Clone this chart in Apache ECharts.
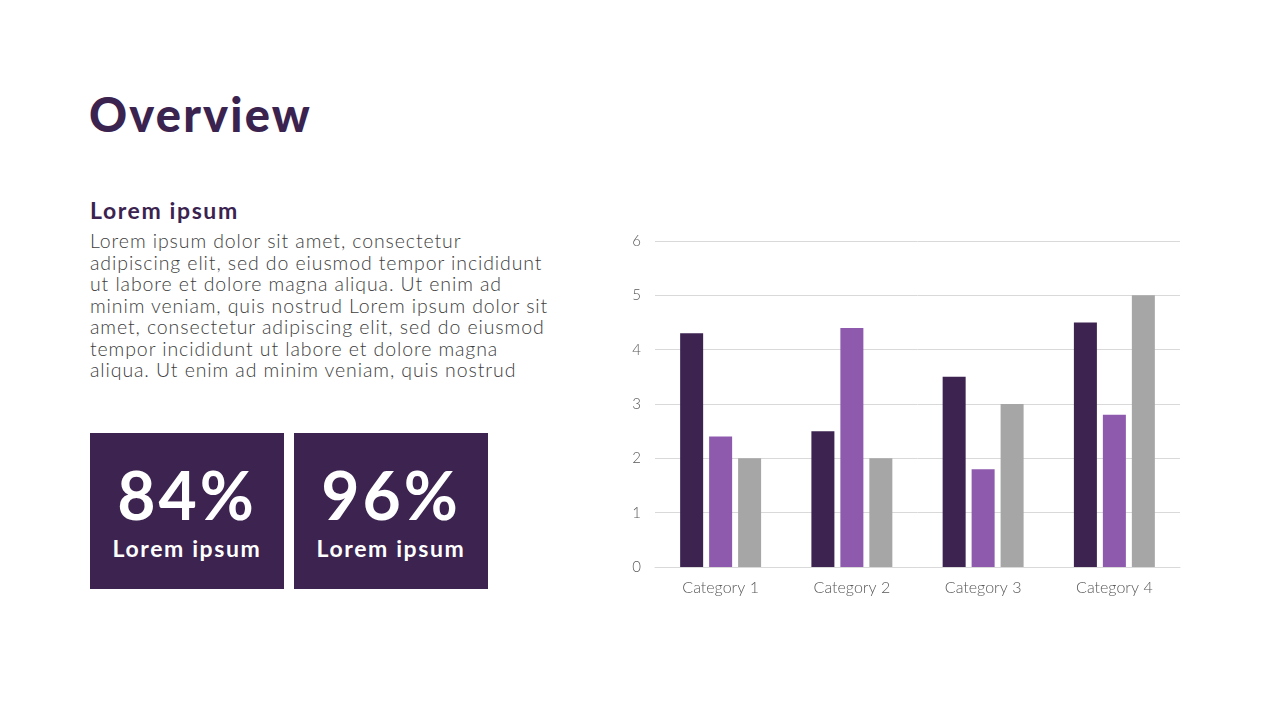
<!DOCTYPE html>
<html>
<head>
<meta charset="utf-8">
<script src="https://cdn.jsdelivr.net/npm/echarts@6/dist/echarts.min.js"></script>
<style>
  html, body { margin: 0; padding: 0; width: 1280px; height: 720px; background: #fff; overflow: hidden; }
  #title { position: absolute; left: 89px; top: 86px; font-family: Lato, sans-serif; font-weight: 900; font-size: 47px; color: #3B2350; letter-spacing: 2.2px; }
  #sub { position: absolute; left: 90px; top: 196px; font-family: Lato, sans-serif; font-weight: 700; font-size: 23px; color: #3B2350; letter-spacing: 1.6px; }
  #para { position: absolute; left: 90px; top: 230px; width: 520px; font-family: Lato, sans-serif; font-weight: 300; font-size: 19.5px; line-height: 21.5px; color: #404040; letter-spacing: 0.9px; white-space: nowrap; }
  .box { position: absolute; top: 433px; width: 194px; height: 156px; background: #3C2350; color: #fff; text-align: center; font-family: Lato, sans-serif; }
  .box .num { position: absolute; left: 0; right: 0; top: 22px; font-size: 66px; font-weight: 700; line-height: 80px; letter-spacing: 3px; }
  .box .lbl { position: absolute; left: 0; right: 0; top: 100px; font-size: 23px; font-weight: 700; line-height: 30px; letter-spacing: 1.6px; }
  #chart { position: absolute; left: 600px; top: 220px; width: 620px; height: 400px; }
</style>
</head>
<body>
<div id="title">Overview</div>
<div id="sub">Lorem ipsum</div>
<div id="para">Lorem ipsum dolor sit amet, consectetur<br>adipiscing elit, sed do eiusmod tempor incididunt<br>ut labore et dolore magna aliqua. Ut enim ad<br>minim veniam, quis nostrud Lorem ipsum dolor sit<br>amet, consectetur adipiscing elit, sed do eiusmod<br>tempor incididunt ut labore et dolore magna<br>aliqua. Ut enim ad minim veniam, quis nostrud</div>
<div class="box" style="left:90px"><div class="num">84%</div><div class="lbl">Lorem ipsum</div></div>
<div class="box" style="left:294px"><div class="num">96%</div><div class="lbl">Lorem ipsum</div></div>
<div id="chart"></div>
<script>
const categories = ['Category 1', 'Category 2', 'Category 3', 'Category 4'];
const series1 = [4.3, 2.5, 3.5, 4.5];
const series2 = [2.4, 4.4, 1.8, 2.8];
const series3 = [2, 2, 3, 5];
const colors = ['#3C2350', '#8E5AAE', '#A6A6A6'];

const chart = echarts.init(document.getElementById('chart'));
chart.setOption({
  animation: false,
  grid: { left: 55, right: 40, top: 21, bottom: 53 },
  xAxis: {
    type: 'category',
    data: categories,
    axisLine: { lineStyle: { color: '#D9D9D9' } },
    axisTick: { show: false },
    axisLabel: { color: '#595959', fontFamily: 'Lato, sans-serif', fontWeight: 300, fontSize: 16, margin: 13 }
  },
  yAxis: {
    type: 'value',
    min: 0, max: 6, interval: 1,
    axisLine: { show: false },
    axisTick: { show: false },
    splitLine: { lineStyle: { color: '#D9D9D9' } },
    axisLabel: { color: '#595959', fontFamily: 'Lato, sans-serif', fontWeight: 300, fontSize: 15, margin: 14 }
  },
  series: [
    { type: 'bar', data: series1, itemStyle: { color: colors[0] }, barWidth: 23, barGap: '26%' },
    { type: 'bar', data: series2, itemStyle: { color: colors[1] }, barWidth: 23, barGap: '26%' },
    { type: 'bar', data: series3, itemStyle: { color: colors[2] }, barWidth: 23, barGap: '26%' }
  ]
});
</script>
</body>
</html>
